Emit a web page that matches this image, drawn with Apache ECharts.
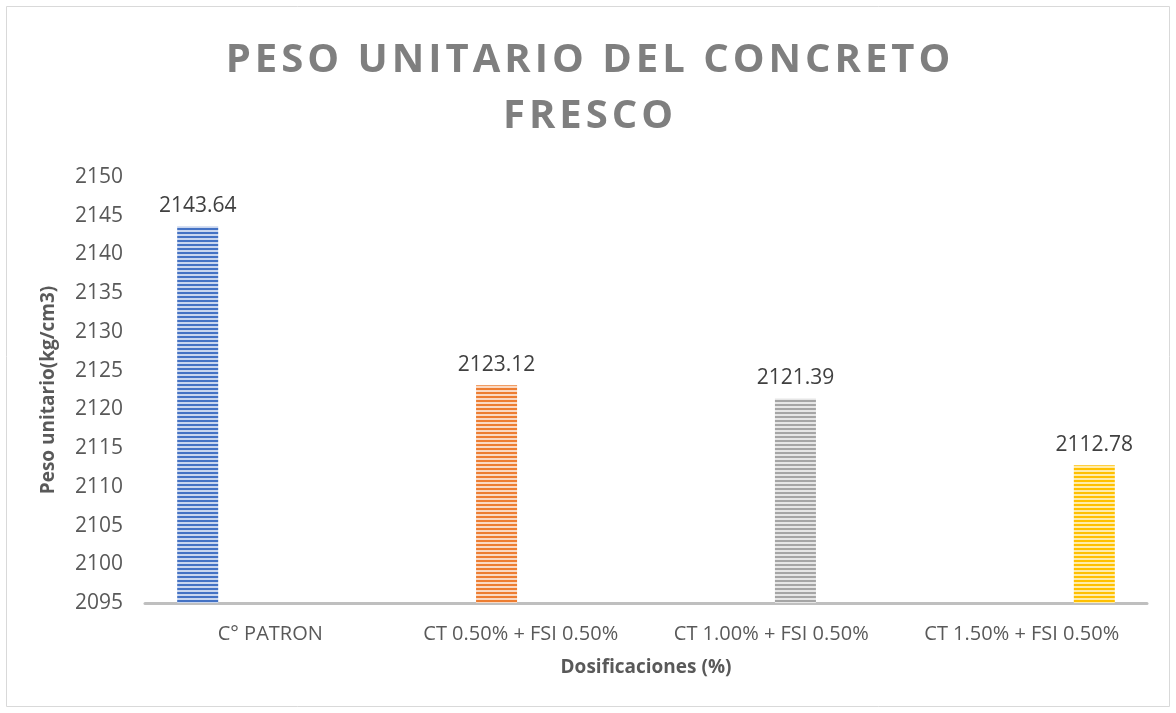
<!DOCTYPE html>
<html>
<head>
<meta charset="utf-8">
<script src="https://cdn.jsdelivr.net/npm/echarts@6/dist/echarts.min.js"></script>
<style>
  html, body { margin: 0; padding: 0; background: #fff; }
  #chart { width: 1176px; height: 713px; }
</style>
</head>
<body>
<div id="chart"></div>
<script>
// Dosage categories and measured unit weights
const categories = ['C° PATRON', 'CT 0.50% + FSI 0.50%', 'CT 1.00% + FSI 0.50%', 'CT 1.50% + FSI 0.50%'];
const values = [2143.64, 2123.12, 2121.39, 2112.78];
const titleLines = ['PESO UNITARIO DEL CONCRETO', 'FRESCO'];
const seriesColors = [
  ['#4472C4', '#c9d6ef'],
  ['#ED7D31', '#fad9c3'],
  ['#A5A5A5', '#e6e6e6'],
  ['#FFC000', '#ffecaa']
];

// Horizontal stripe fill for the bars
function stripes(dark, light) {
  const c = document.createElement('canvas');
  c.width = 8; c.height = 4;
  const g = c.getContext('2d');
  g.fillStyle = light; g.fillRect(0, 0, 8, 4);
  g.fillStyle = dark; g.fillRect(0, 0, 8, 2);
  return { image: c, repeat: 'repeat' };
}

// Widen the title tracking with hair spaces between letters
const spaced = s => Array.from(s).join('\u200A');

const FONT = '"Open Sans", sans-serif';

// One series per dosage, each holding only its own category
const series = categories.map((name, i) => ({
  name: name,
  type: 'bar',
  barWidth: 41,
  barGap: '18%',
  data: categories.map((_, j) => (j === i ? values[i] : '-')),
  itemStyle: { color: stripes(seriesColors[i][0], seriesColors[i][1]) },
  label: {
    show: true,
    position: 'top',
    distance: 10,
    color: '#404040',
    fontFamily: FONT,
    fontSize: 21,
    formatter: p => p.value.toFixed(2)
  }
}));

const chart = echarts.init(document.getElementById('chart'), null, { renderer: 'canvas' });
chart.setOption({
  animation: false,
  backgroundColor: '#ffffff',
  title: {
    text: titleLines.map(spaced).join('\n'),
    left: 'center',
    top: 28,
    textStyle: {
      color: '#7f7f7f',
      fontFamily: FONT,
      fontWeight: 'bold',
      fontSize: 40,
      lineHeight: 56
    }
  },
  graphic: [{
    type: 'rect',
    shape: { x: 6.5, y: 6.5, width: 1163, height: 700 },
    style: { fill: 'none', stroke: '#d9d9d9', lineWidth: 1 },
    silent: true
  }],
  grid: { left: 145, right: 29, top: 177, bottom: 110, containLabel: false },
  xAxis: {
    type: 'category',
    data: categories,
    name: 'Dosificaciones (%)',
    nameLocation: 'middle',
    nameGap: 55,
    nameTextStyle: { color: '#595959', fontFamily: FONT, fontWeight: 'bold', fontSize: 19 },
    axisLine: { lineStyle: { color: '#bfbfbf', width: 3 } },
    axisTick: { show: false },
    axisLabel: { color: '#595959', fontFamily: FONT, fontSize: 20, margin: 21, interval: 0 }
  },
  yAxis: {
    type: 'value',
    min: 2095,
    max: 2150,
    interval: 5,
    name: 'Peso unitario(kg/cm3)',
    nameLocation: 'middle',
    nameGap: 87,
    nameTextStyle: { color: '#595959', fontFamily: FONT, fontWeight: 'bold', fontSize: 19 },
    axisLine: { show: false },
    axisTick: { show: false },
    splitLine: { show: false },
    axisLabel: { color: '#595959', fontFamily: FONT, fontSize: 21, margin: 22, formatter: v => String(v) }
  },
  series: series
});
</script>
</body>
</html>
